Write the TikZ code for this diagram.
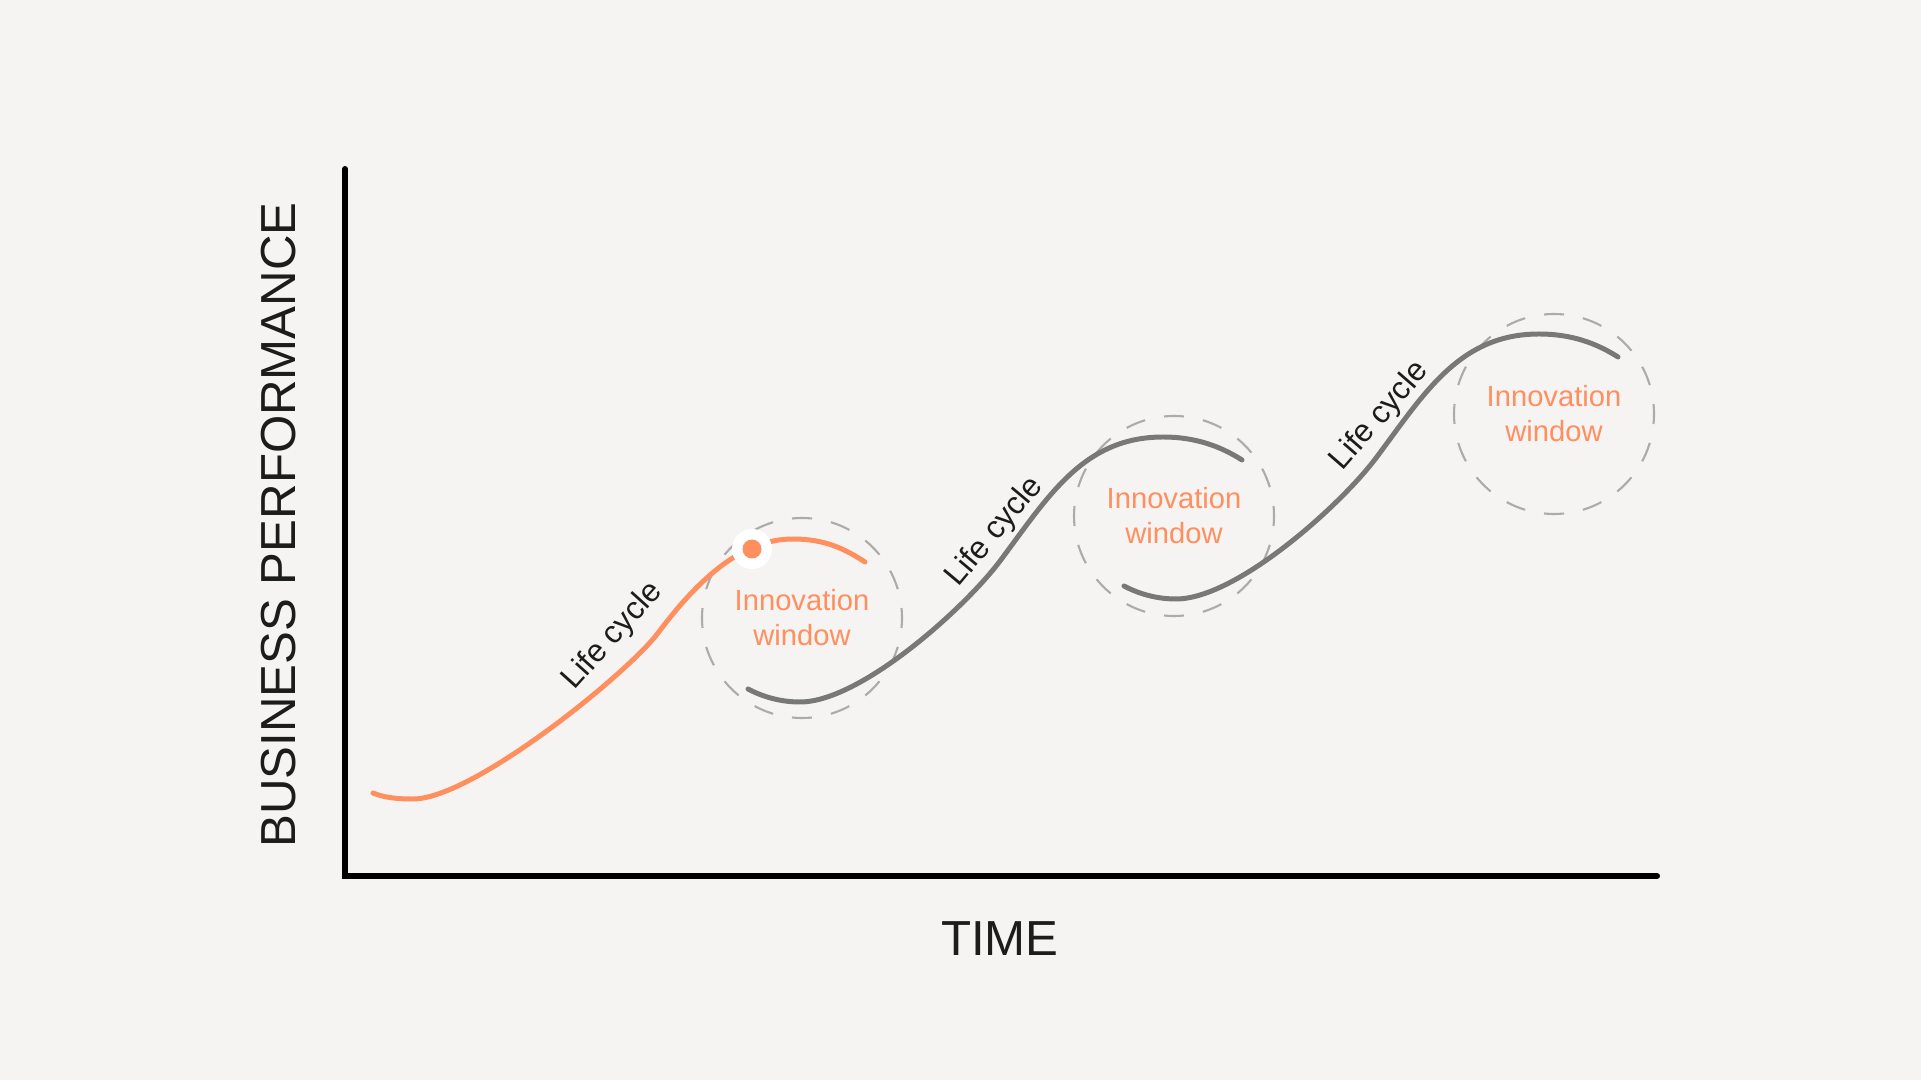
\documentclass[tikz,border=0pt]{standalone}
\usepackage{fontspec}
\setmainfont{Liberation Sans}
\definecolor{paper}{HTML}{F5F4F2}
\definecolor{accent}{HTML}{FF8F5E}
\definecolor{curvegray}{HTML}{787878}
\definecolor{ringgray}{HTML}{ABABAB}
\definecolor{ink}{HTML}{1C1C1C}

\begin{document}
\begin{tikzpicture}[
    axisline/.style={line width=1.7pt, line cap=round, line join=miter},
    lifecurve/.style={line width=1.42pt, line cap=round},
    window/.style={circle, draw=ringgray, line width=0.6pt,
      dash pattern=on 0.2cm off 0.1927cm, dash phase=0.1cm,
      minimum size=2cm, inner sep=0pt, text=accent, align=center,
      font=\fontsize{8.3}{10}\selectfont},
    cyclelabel/.style={text=ink, inner sep=0pt, font=\fontsize{9}{11}\selectfont},
    axislabel/.style={text=ink, inner sep=0pt, font=\fontsize{14}{17}\selectfont}
  ]
    \fill[paper] (-3.45,-2.04) rectangle (15.76,8.76);
    \useasboundingbox (-3.45,-2.04) rectangle (15.76,8.76);

    % innovation windows
    \node[window] (winA) at (4.57,2.58) {Innovation\\window};
    \node[window] (winB) at (8.29,3.60) {Innovation\\window};
    \node[window] (winC) at (12.09,4.62) {Innovation\\window};

    % axes
    \draw[axisline] (0,7.07) -- (0,0) -- (13.12,0);
    \node[axislabel, rotate=90] (perf) at (-0.66,3.51) {BUSINESS PERFORMANCE};
    \node[axislabel] (time) at (6.55,-0.625) {TIME};

    % life cycles
    \draw[lifecurve, accent] (0.28,0.83) .. controls (0.40,0.78) and (0.54,0.77) .. (0.68,0.77)
      .. controls (1.28,0.77) and (2.83,2.03) .. (3.13,2.43)
      .. controls (3.55,2.99) and (3.98,3.37) .. (4.48,3.37)
      .. controls (4.80,3.37) and (5.00,3.27) .. (5.20,3.14);
    \draw[lifecurve, curvegray] (4.03,1.87) .. controls (4.20,1.78) and (4.38,1.74) .. (4.55,1.74)
      .. controls (5.15,1.74) and (6.19,2.67) .. (6.55,3.15)
      .. controls (7.03,3.79) and (7.38,4.39) .. (8.18,4.39)
      .. controls (8.50,4.39) and (8.75,4.30) .. (8.97,4.16);
    \draw[lifecurve, curvegray] (7.79,2.90) .. controls (7.96,2.81) and (8.14,2.77) .. (8.31,2.77)
      .. controls (8.91,2.77) and (9.95,3.70) .. (10.31,4.18)
      .. controls (10.79,4.82) and (11.14,5.42) .. (11.94,5.42)
      .. controls (12.26,5.42) and (12.51,5.33) .. (12.73,5.19);
    \node[cyclelabel, rotate=48] (cycleA) at (2.68,2.40) {Life cycle};
    \node[cyclelabel, rotate=50] (cycleB) at (6.50,3.44) {Life cycle};
    \node[cyclelabel, rotate=49] (cycleC) at (10.35,4.60) {Life cycle};

    % current position
    \node[circle, fill=white, minimum size=0.4cm, inner sep=0pt] (halo) at (4.07,3.27) {};
    \node[circle, fill=accent, minimum size=0.19cm, inner sep=0pt] (now) at (halo) {};
  \end{tikzpicture}
\end{document}
